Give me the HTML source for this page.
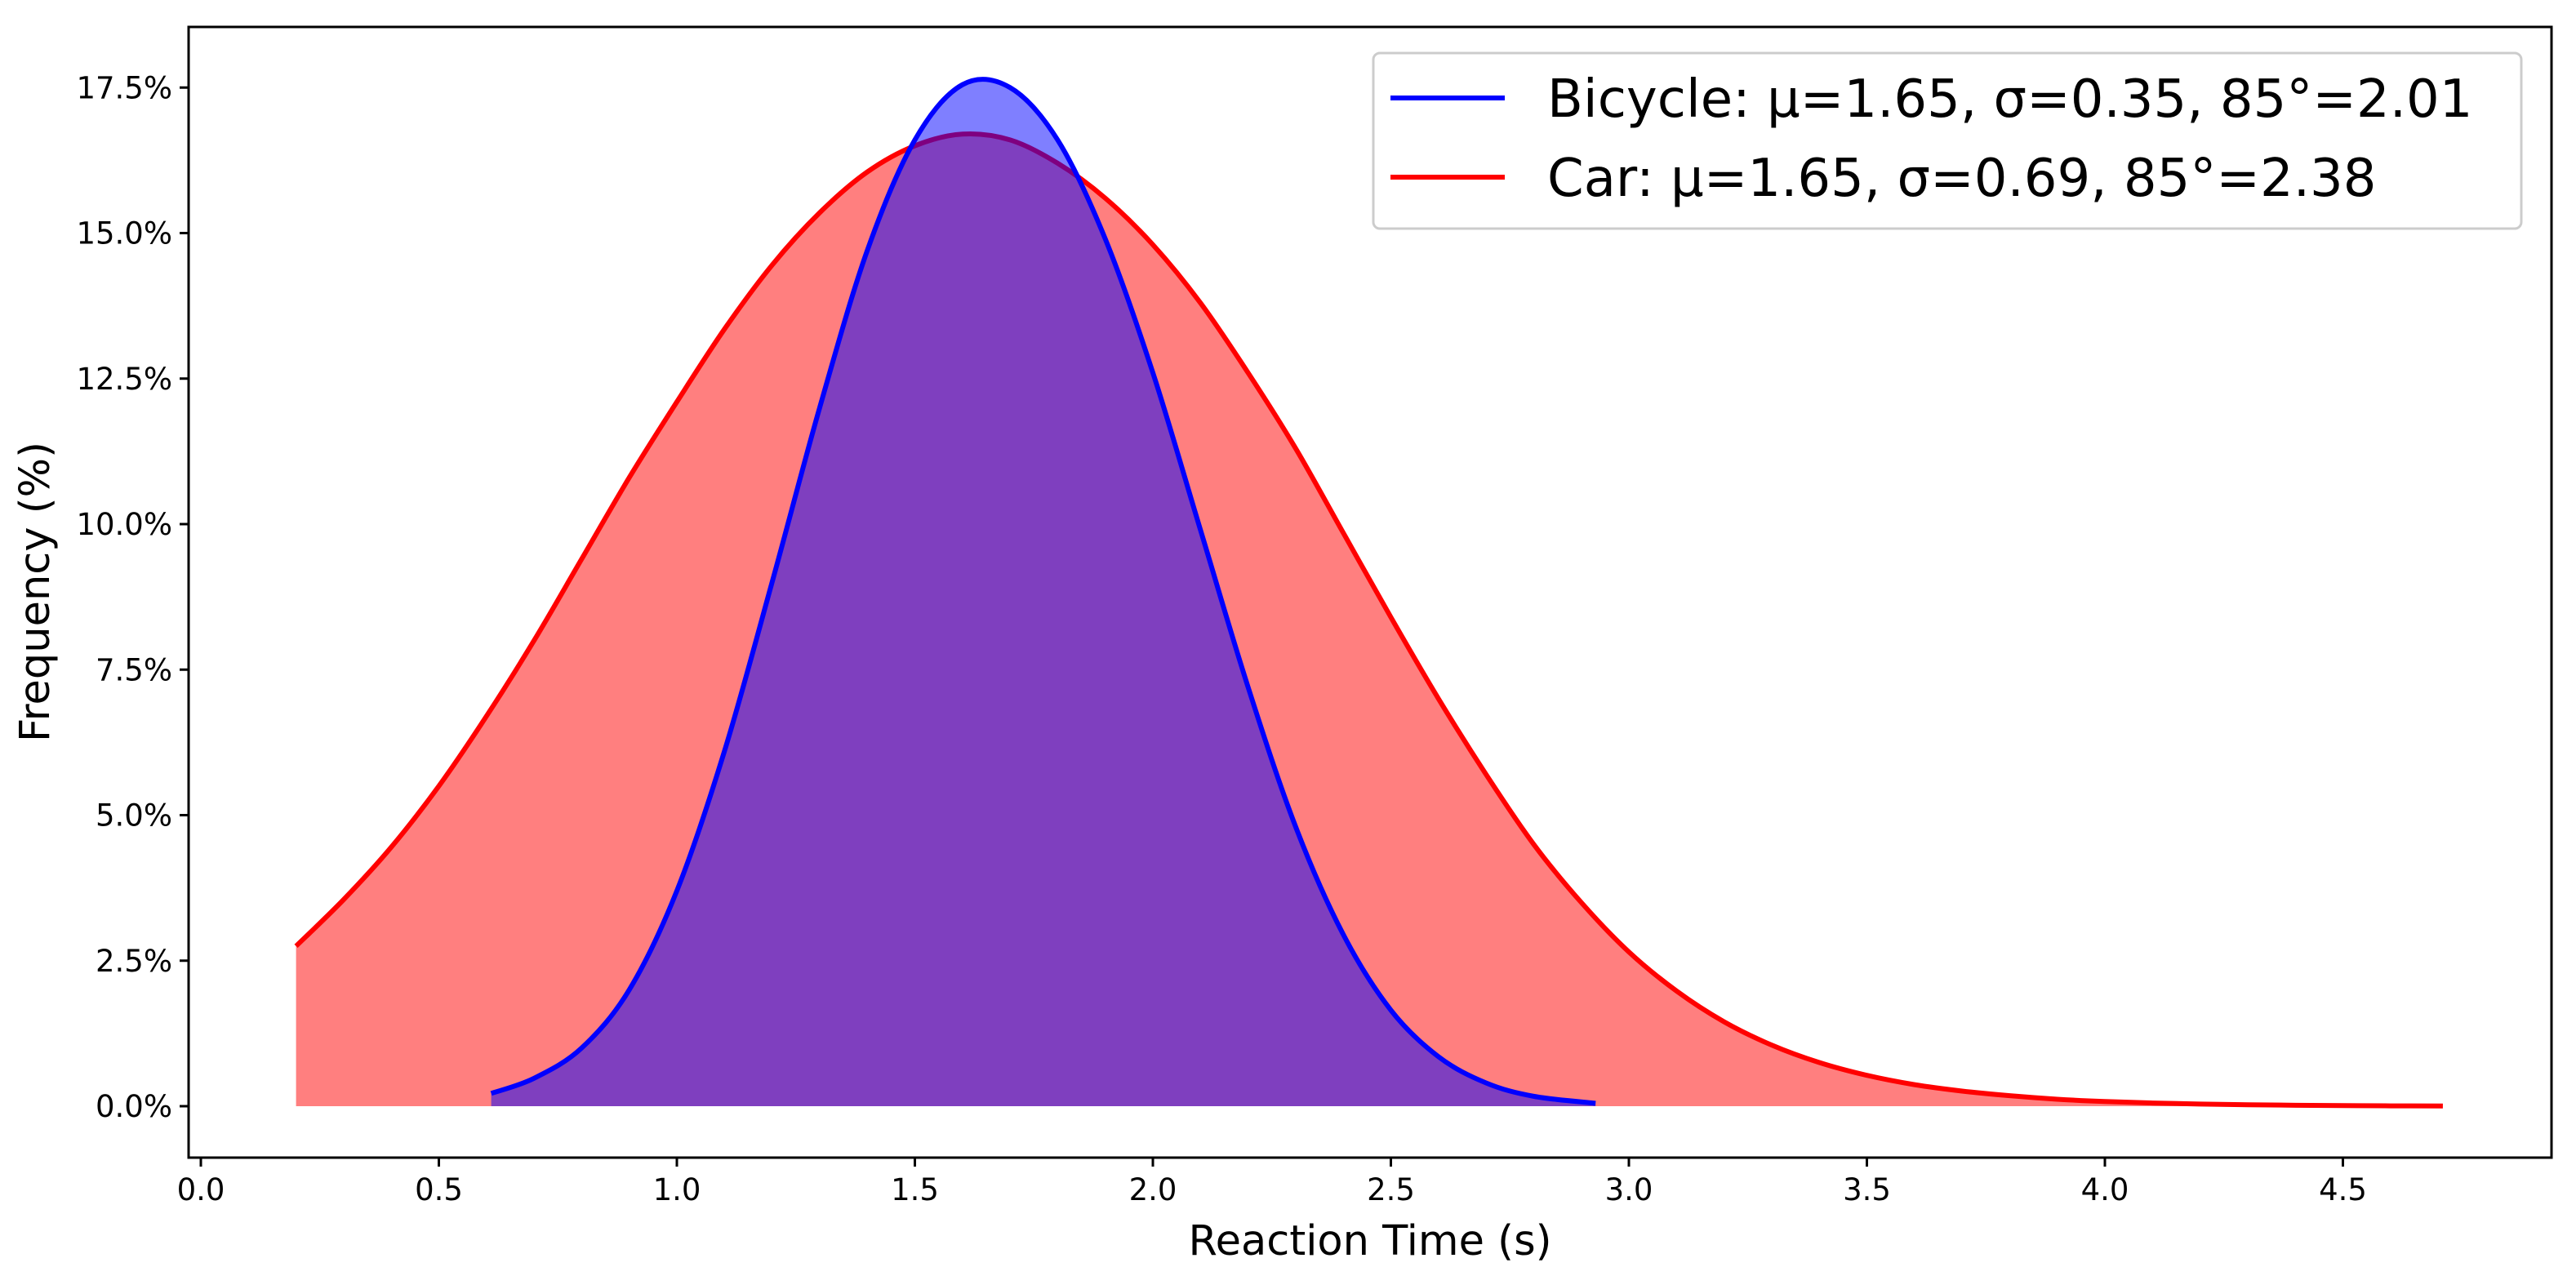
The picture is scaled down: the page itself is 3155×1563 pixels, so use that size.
<!DOCTYPE html>
<html><head><meta charset="utf-8">
<style>
html,body{margin:0;padding:0;background:#fff;}
svg{display:block;font-family:"DejaVu Sans","Liberation Sans",sans-serif;}
</style></head>
<body>
<svg id="chart" width="3155" height="1563" viewBox="0 0 3155 1563" xmlns="http://www.w3.org/2000/svg">
<g id="plot"></g>
<g id="axes"></g>
<text x="1678" y="1537" font-size="51" text-anchor="middle" fill="#000">Reaction Time (s)</text>
<text transform="translate(60,725) rotate(-90)" font-size="51" text-anchor="middle" fill="#000">Frequency (%)</text>
<g>
<rect x="1682" y="65" width="1406" height="215" rx="8" fill="#fff" fill-opacity="0.8" stroke="#ccc" stroke-width="3"/>
<line x1="1703" y1="120" x2="1843" y2="120" stroke="#0000ff" stroke-width="6"/>
<text x="1895" y="143" font-size="64" fill="#000">Bicycle: μ=1.65, σ=0.35, 85°=2.01</text>
<line x1="1703" y1="217" x2="1843" y2="217" stroke="#ff0000" stroke-width="6"/>
<text x="1895" y="240" font-size="64" fill="#000">Car: μ=1.65, σ=0.69, 85°=2.38</text>
</g>
</svg>
<script>
const carX = [0.2,0.3,0.4,0.5,0.6,0.7,0.8,0.9,1.0,1.1,1.2,1.3,1.4,1.5,1.6,1.7,1.8,1.9,2.0,2.1,2.2,2.3,2.4,2.5,2.6,2.7,2.8,2.9,3.0,3.1,3.2,3.3,3.4,3.5,3.6,3.7,3.8,3.9,4.0,4.1,4.2,4.3,4.4,4.5,4.6,4.71];
const carY = [2.75,3.55,4.45,5.5,6.7,8.0,9.4,10.8,12.1,13.35,14.45,15.35,16.05,16.5,16.7,16.6,16.2,15.6,14.8,13.8,12.6,11.3,9.85,8.4,7.0,5.7,4.5,3.5,2.65,1.98,1.45,1.05,0.75,0.53,0.37,0.26,0.18,0.12,0.08,0.055,0.037,0.025,0.016,0.01,0.006,0.003];
const bikeX = [0.61,0.7,0.8,0.9,1.0,1.1,1.2,1.3,1.4,1.5,1.6,1.7,1.8,1.9,2.0,2.1,2.2,2.3,2.4,2.5,2.6,2.7,2.8,2.93];
const bikeY = [0.22,0.48,1.0,2.0,3.7,6.1,9.0,12.0,14.7,16.6,17.55,17.5,16.6,14.9,12.6,9.9,7.2,4.8,2.95,1.65,0.85,0.4,0.17,0.05];
const xTicks = [0.0,0.5,1.0,1.5,2.0,2.5,3.0,3.5,4.0,4.5];
const yTicks = [0,2.5,5,7.5,10,12.5,15,17.5];

const L=231,R=3125,T=33,B=1418;
const sx=v=>246+v*583;
const sy=v=>1355-v*71.3;
const NS='http://www.w3.org/2000/svg';
const plot=document.getElementById('plot'), axes=document.getElementById('axes');
function mk(tag,attrs,parent){const e=document.createElementNS(NS,tag);for(const k in attrs)e.setAttribute(k,attrs[k]);parent.appendChild(e);return e;}
function curve(xs,ys){
  const p=xs.map((x,i)=>[sx(x),sy(ys[i])]);
  let d='M'+p[0][0]+','+p[0][1];
  for(let i=0;i<p.length-1;i++){
    const p0=p[Math.max(0,i-1)],p1=p[i],p2=p[i+1],p3=p[Math.min(p.length-1,i+2)];
    const c1=[p1[0]+(p2[0]-p0[0])/6,p1[1]+(p2[1]-p0[1])/6];
    const c2=[p2[0]-(p3[0]-p1[0])/6,p2[1]-(p3[1]-p1[1])/6];
    d+=' C'+c1[0]+','+c1[1]+' '+c2[0]+','+c2[1]+' '+p2[0]+','+p2[1];
  }
  return d;
}
function series(xs,ys,color,name){
  const c=curve(xs,ys);
  const fill=mk('path',{d:c+' L'+sx(xs[xs.length-1])+','+sy(0)+' L'+sx(xs[0])+','+sy(0)+' Z',fill:color,'fill-opacity':0.5,stroke:'none'},plot);
  
  
  const line=mk('path',{d:c,fill:'none',stroke:color,'stroke-width':6},plot);
  
  
}
series(carX,carY,'#ff0000','car');
series(bikeX,bikeY,'#0000ff','bicycle');

const frame=mk('rect',{x:L,y:T,width:R-L,height:B-T,fill:'none',stroke:'#000','stroke-width':3},axes);


xTicks.forEach(v=>{
  const t=mk('line',{x1:sx(v),y1:B,x2:sx(v),y2:B+11,stroke:'#000','stroke-width':3},axes);
  
  
  const l=mk('text',{x:sx(v),y:B+52,'font-size':37,'text-anchor':'middle',fill:'#000'},axes);
  
  
  l.textContent=v.toFixed(1);
});
yTicks.forEach(v=>{
  const t=mk('line',{x1:L-11,y1:sy(v),x2:L,y2:sy(v),stroke:'#000','stroke-width':3},axes);
  
  
  const l=mk('text',{x:L-20,y:sy(v)+13,'font-size':37,'text-anchor':'end',fill:'#000'},axes);
  
  
  l.textContent=v.toFixed(1)+'%';
});
</script>
</body></html>
